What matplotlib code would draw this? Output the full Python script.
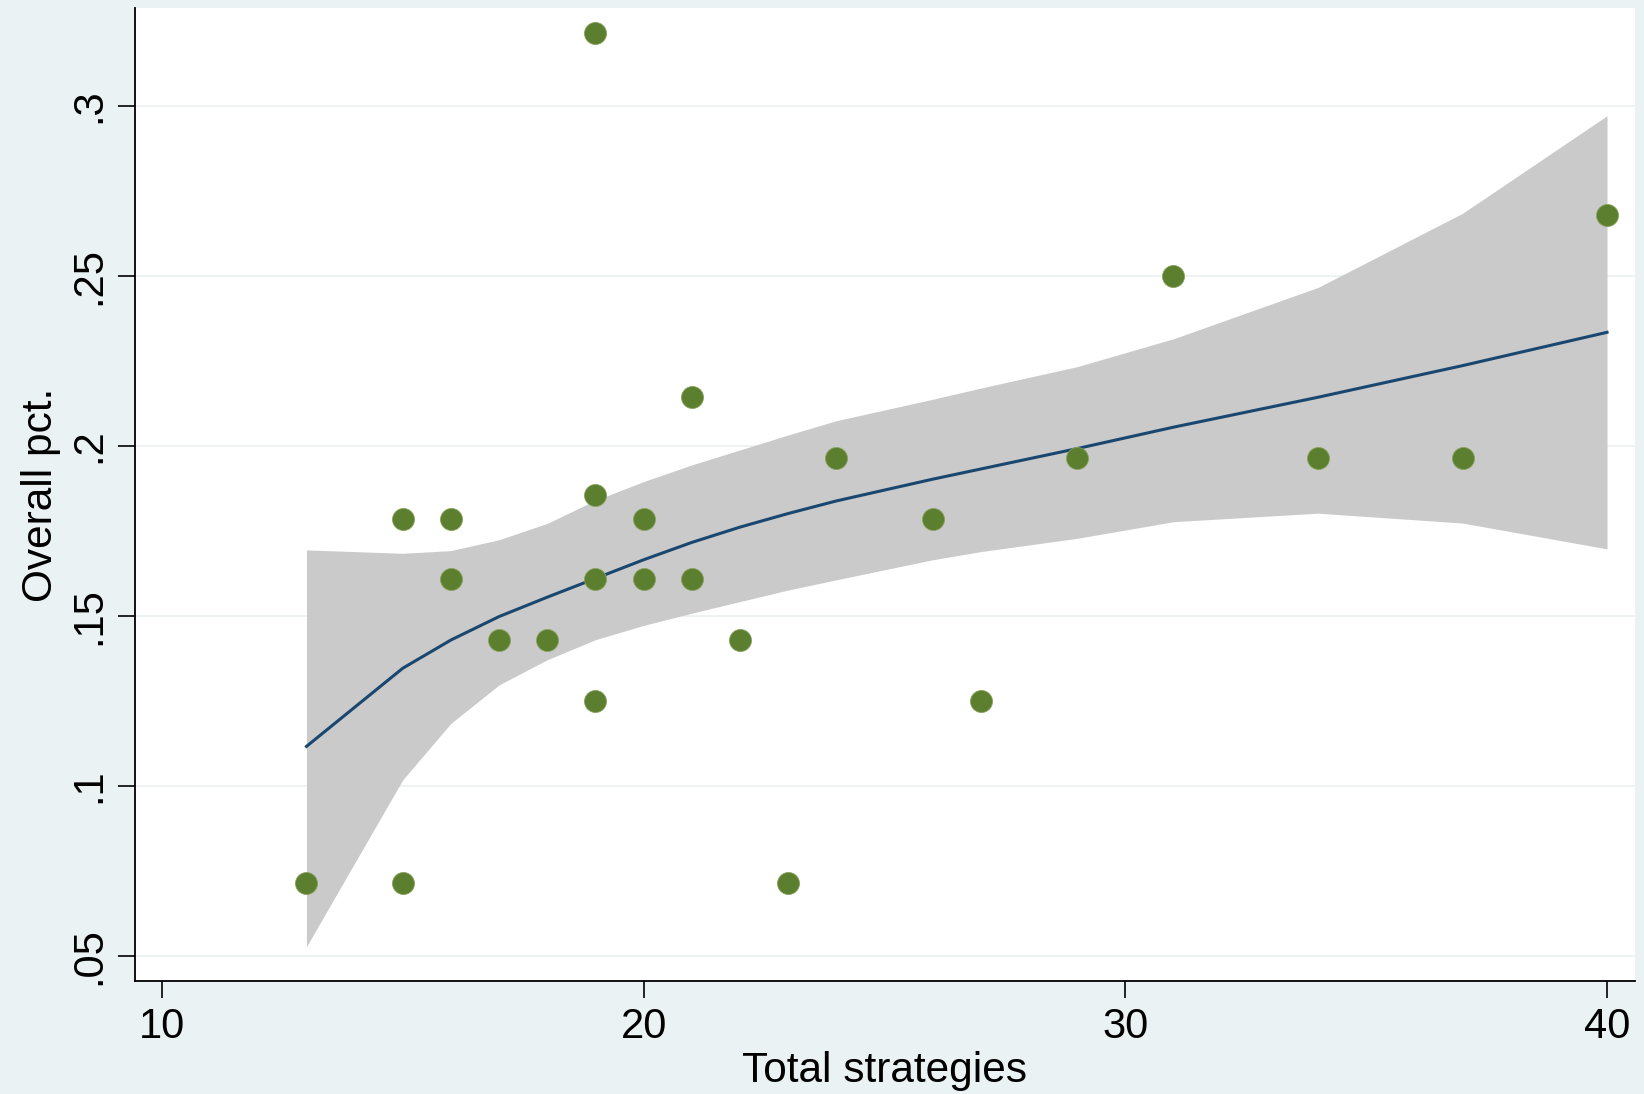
import matplotlib
matplotlib.use("Agg")
import matplotlib.pyplot as plt

# Observations: total strategies vs. overall percentage
total_strategies = [13, 15, 15, 16, 16, 17, 18, 19, 19, 19, 19, 20, 20,
                    21, 21, 22, 23, 24, 26, 27, 29, 31, 34, 37, 40]
overall_pct = [0.0714, 0.0714, 0.1786, 0.1786, 0.1607, 0.1429, 0.1429,
               0.3214, 0.1855, 0.1607, 0.1250, 0.1786, 0.1607, 0.2143,
               0.1607, 0.1429, 0.0714, 0.1964, 0.1786, 0.1250, 0.1964,
               0.2500, 0.1964, 0.1964, 0.2679]

# Fitted curve and its confidence band, evaluated at the distinct x values
fit_x = [13, 15, 16, 17, 18, 19, 20, 21, 22, 23, 24, 26, 27, 29, 31, 34, 37, 40]
fit_y = [0.1116, 0.1346, 0.1429, 0.1498, 0.1555, 0.1610, 0.1665, 0.1716,
         0.1761, 0.1801, 0.1838, 0.1902, 0.1932, 0.1992, 0.2055, 0.2143,
         0.2236, 0.2334]
ci_upper = [0.1694, 0.1684, 0.1692, 0.1724, 0.1772, 0.1840, 0.1895, 0.1944,
            0.1988, 0.2032, 0.2074, 0.2137, 0.2170, 0.2233, 0.2315, 0.2466,
            0.2684, 0.2971]
ci_lower = [0.0527, 0.1018, 0.1184, 0.1297, 0.1371, 0.1430, 0.1472, 0.1508,
            0.1542, 0.1576, 0.1606, 0.1665, 0.1689, 0.1728, 0.1777, 0.1802,
            0.1773, 0.1697]

x_ticks = [10, 20, 30, 40]
x_tick_labels = ["10", "20", "30", "40"]
y_ticks = [0.05, 0.10, 0.15, 0.20, 0.25, 0.30]
y_tick_labels = [".05", ".1", ".15", ".2", ".25", ".3"]

plt.rcParams["font.family"] = ["Liberation Sans", "DejaVu Sans"]

BG = "#EAF2F3"
fig = plt.figure(figsize=(16.44, 10.94), dpi=100, facecolor=BG)
ax = fig.add_axes([0.0821, 0.1033, 0.9124, 0.8894])
ax.set_facecolor("white")

ax.fill_between(fit_x, ci_lower, ci_upper, color="#CACACA", linewidth=0, zorder=2)
ax.plot(fit_x, fit_y, color="#1A476F", linewidth=2.2, zorder=3,
        solid_joinstyle="round")
ax.scatter(total_strategies, overall_pct, s=250, color="#5C7F2F",
           edgecolors="#86A05A", linewidths=0.6, zorder=4)

ax.set_xlim(9.44, 40.58)
ax.set_ylim(0.0426, 0.3288)

ax.set_xticks(x_ticks)
ax.set_xticklabels(x_tick_labels)
ax.set_yticks(y_ticks)
ax.set_yticklabels(y_tick_labels, rotation=90, va="center")

ax.grid(axis="y", color="#EDF1F2", linewidth=1.3, zorder=0)
ax.set_axisbelow(True)

for side in ("top", "right"):
    ax.spines[side].set_visible(False)
for side in ("left", "bottom"):
    ax.spines[side].set_linewidth(1.3)
    ax.spines[side].set_color("black")

ax.tick_params(axis="both", length=12.5, width=1.2, color="black",
               labelsize=30, pad=6)

ax.set_xlabel("Total strategies", fontsize=30.5, labelpad=3)
ax.set_ylabel("Overall pct.", fontsize=30.5, labelpad=6)

fig.savefig("out.png", dpi=100, facecolor=BG)
